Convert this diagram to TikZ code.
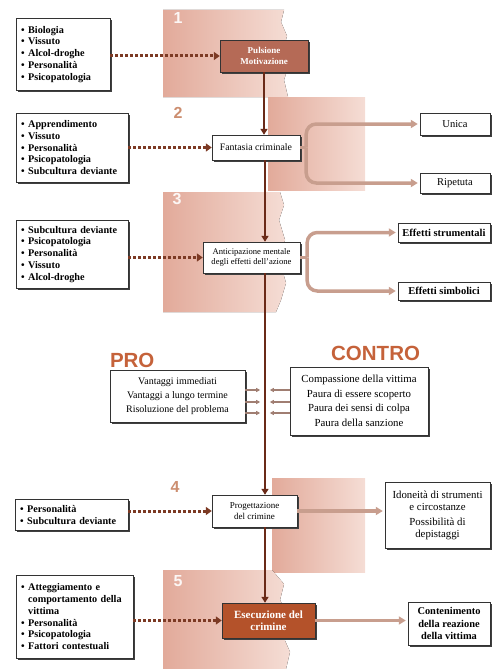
\documentclass[tikz,border=0pt]{standalone}
\usepackage{fontspec}
\setmainfont{Liberation Serif}
\newfontfamily\tagfont{Liberation Sans}
\usepackage{xcolor}
\usepackage{tikz}
\usetikzlibrary{arrows.meta}
\usetikzlibrary{calc}
\usetikzlibrary{shadows}
\usetikzlibrary{positioning}

\definecolor{bandrose}{HTML}{E2AA9A}
\definecolor{bandpale}{HTML}{F5DDD5}
\definecolor{spinebrown}{HTML}{6A2A18}
\definecolor{feedbrown}{HTML}{7C3A24}
\definecolor{branchtan}{HTML}{C89E8E}
\definecolor{pulsefill}{HTML}{B56A56}
\definecolor{execfill}{HTML}{B4522A}
\definecolor{tagorange}{HTML}{C5623A}
\definecolor{numtan}{HTML}{CC8E70}

\begin{document}
\begin{tikzpicture}[
    x=1pt, y=-1pt,
    every node/.style={font=\fontsize{9.8}{11.8}\selectfont},
    boxshadow/.style={drop shadow={shadow xshift=1.6pt, shadow yshift=-1.6pt, fill=black!75, opacity=1}},
    factors/.style={draw=black!80, fill=white, boxshadow, anchor=north west, align=left,
        inner xsep=5pt, font=\bfseries\fontsize{10.2}{11.7}\selectfont},
    stage/.style={draw=black!80, fill=white, boxshadow, align=center, inner sep=2pt},
    stagehot/.style={stage, text=white},
    outcome/.style={draw=black!80, fill=white, boxshadow, align=center, inner sep=2pt},
    weigh/.style={draw=black!80, fill=white, boxshadow, align=center},
    tag/.style={text=tagorange, inner sep=0pt, font=\tagfont\bfseries\fontsize{20.5}{20.5}\selectfont},
    stepnum/.style={inner sep=0pt, font=\tagfont\bfseries\fontsize{16}{16}\selectfont},
    band/.style={left color=bandrose, right color=bandpale, draw=none},
    feed/.style={draw=feedbrown, line width=3pt, dash pattern=on 3pt off 2pt, -{Triangle[length=6pt, width=8pt]}},
    spine/.style={draw=spinebrown, line width=2.5pt, -{Triangle[length=6pt, width=7pt]}},
    branch/.style={draw=branchtan, line width=3.5pt, rounded corners=10pt, -{Triangle[length=7pt, width=8pt]}, shorten >=2pt},
    nudge/.style={draw=branchtan!80!black, line width=1.2pt, -{Triangle[length=4pt, width=4pt]}},
]
\useasboundingbox (0,0) rectangle (491,669);

% shaded bands behind the five stages
\fill[band] (163,10) -- (284,10) -- (281,22) -- (287,36) -- (283,50) -- (289,64) -- (284,80) -- (288,97)
    -- (163,97) -- cycle;
\fill[band] (268,97) -- (365,97) -- (365,190) -- (268,190) -- cycle;
\fill[band] (163,192) -- (280,192) -- (284,205) -- (279,220) -- (285,240) -- (280,262) -- (286,283)
    -- (281,300) -- (276,312) -- (163,312) -- cycle;
\fill[band] (272,478) -- (365,478) -- (365,572) -- (272,572) -- cycle;
\fill[band] (163,570) -- (272,570) -- (284,584) -- (280,600) -- (289,618) -- (283,636) -- (290,652)
    -- (286,669) -- (163,669) -- cycle;

\node[stepnum, text=white!90!bandrose] (n1) at (178,18) {1};
\node[stepnum, text=numtan] (n2) at (178,113) {2};
\node[stepnum, text=white!90!bandrose] (n3) at (177,199) {3};
\node[stepnum, text=numtan] (n4) at (175,487) {4};
\node[stepnum, text=white!90!bandrose] (n5) at (178,581) {5};

% stages
\node[stagehot, fill=pulsefill, minimum width=88pt, minimum height=32pt,
    font=\bfseries\fontsize{9}{11}\selectfont] (pulse) at (264,56) {Pulsione\\Motivazione};
\node[stage, minimum width=88pt, minimum height=25pt] (fant) at (256,147.5) {Fantasia criminale};
\node[stage, minimum width=97pt, minimum height=31pt, font=\fontsize{8.6}{10.5}\selectfont]
    (anti) at (251.5,257.5) {Anticipazione mentale\\degli effetti dell'azione};
\node[stage, minimum width=85pt, minimum height=32pt, font=\fontsize{9}{11.5}\selectfont]
    (prog) at (254.5,511) {Progettazione\\del crimine};
\node[stagehot, fill=execfill, minimum width=93pt, minimum height=35pt,
    font=\bfseries\fontsize{11}{12.5}\selectfont] (exec) at (268.5,620.5) {Esecuzione del\\crimine};

% factors
\node[factors, text width=84pt, minimum height=72pt] (f1) at (16,18)
    {\textbullet\ Biologia\\\textbullet\ Vissuto\\\textbullet\ Alcol-droghe\\\textbullet\ Personalità\\\textbullet\ Psicopatologia};
\node[factors, text width=102pt, minimum height=69pt] (f2) at (16,113)
    {\textbullet\ Apprendimento\\\textbullet\ Vissuto\\\textbullet\ Personalità\\\textbullet\ Psicopatologia\\\textbullet\ Subcultura deviante};
\node[factors, text width=102pt, minimum height=68pt] (f3) at (16,220)
    {\textbullet\ Subcultura deviante\\\textbullet\ Psicopatologia\\\textbullet\ Personalità\\\textbullet\ Vissuto\\\textbullet\ Alcol-droghe};
\node[factors, text width=103pt, minimum height=31pt] (f4) at (15,499)
    {\textbullet\ Personalità\\\textbullet\ Subcultura deviante};
\node[factors, text width=107pt, minimum height=83pt] (f5) at (16,575)
    {\textbullet\ Atteggiamento e\\\phantom{\textbullet\ }comportamento della\\\phantom{\textbullet\ }vittima\\\textbullet\ Personalità\\\textbullet\ Psicopatologia\\\textbullet\ Fattori contestuali};

% outcomes
\node[outcome, minimum width=70pt, minimum height=22pt, font=\fontsize{10.5}{12}\selectfont] (unica) at (455,124) {Unica};
\node[outcome, minimum width=70pt, minimum height=20pt, font=\fontsize{10.5}{12}\selectfont] (ripet) at (455,183) {Ripetuta};
\node[outcome, minimum width=92pt, minimum height=19pt, font=\bfseries\fontsize{10.5}{12}\selectfont] (estr) at (444,232.5) {Effetti strumentali};
\node[outcome, minimum width=92pt, minimum height=18pt, font=\bfseries\fontsize{10.5}{12}\selectfont] (esim) at (444,291) {Effetti simbolici};
\node[outcome, minimum width=105pt, minimum height=66pt, font=\fontsize{10.8}{12}\selectfont] (ido) at (437.5,515)
    {Idoneità di strumenti\\e circostanze\\[3pt]Possibilità di\\depistaggi};
\node[outcome, minimum width=82pt, minimum height=43pt, font=\bfseries\fontsize{10.4}{12.5}\selectfont] (cont) at (449,623.5)
    {Contenimento\\della reazione\\della vittima};

% pro and contro
\node[weigh, minimum width=135pt, minimum height=52pt, font=\fontsize{10}{14}\selectfont] (pro) at (177.5,396)
    {Vantaggi immediati\\Vantaggi a lungo termine\\Risoluzione del problema};
\node[weigh, minimum width=138pt, minimum height=68pt, font=\fontsize{10.8}{14.5}\selectfont] (contro) at (359,401)
    {Compassione della vittima\\Paura di essere scoperto\\Paura dei sensi di colpa\\Paura della sanzione};
\node[tag, anchor=south west] (protag) at ([shift={(0pt,2pt)}]pro.north west) {PRO};
\node[tag, anchor=south east] (contag) at ([shift={(-8pt,6pt)}]contro.north east) {CONTRO};

% main line
\coordinate (axis) at (265,0);
\draw[spine] (pulse.south) -- (pulse.south |- fant.north);
\draw[spine] (fant.south -| axis) -- (anti.north -| axis);
\draw[spine] (anti.south -| axis) -- (prog.north -| axis);
\draw[spine] (prog.south -| axis) -- (exec.north -| axis);

% feeding factors
\draw[feed] (f1.east |- pulse.west) -- (pulse.west);
\draw[feed] (f2.east |- fant.west) -- (fant.west);
\draw[feed] (f3.east |- anti.west) -- (anti.west);
\draw[feed] (f4.east |- prog.west) -- (prog.west);
\draw[feed] (f5.east |- exec.west) -- (exec.west);

% branches
\coordinate[right=6pt of fant] (fork2);
\coordinate[right=7pt of anti] (fork3);
\draw[branch, -, shorten >=0pt] (fant.east) -- (fork2);
\draw[branch] (fork2) |- (unica.west);
\draw[branch] (fork2) |- (ripet.west);
\draw[branch, -, shorten >=0pt] (anti.east) -- (fork3);
\draw[branch] (fork3) |- (estr.west);
\draw[branch] (fork3) |- (esim.west);
\draw[branch] (prog.east) -- (prog.east -| ido.west);
\draw[branch] (exec.east) -- (exec.east -| cont.west);

\foreach \ty in {390,402,413} {
    \coordinate (tick) at (0,\ty);
    \draw[nudge] (pro.east |- tick) -- ++(15,0);
    \draw[nudge] (contro.west |- tick) -- ++(-20,0);
}

\end{tikzpicture}
\end{document}
